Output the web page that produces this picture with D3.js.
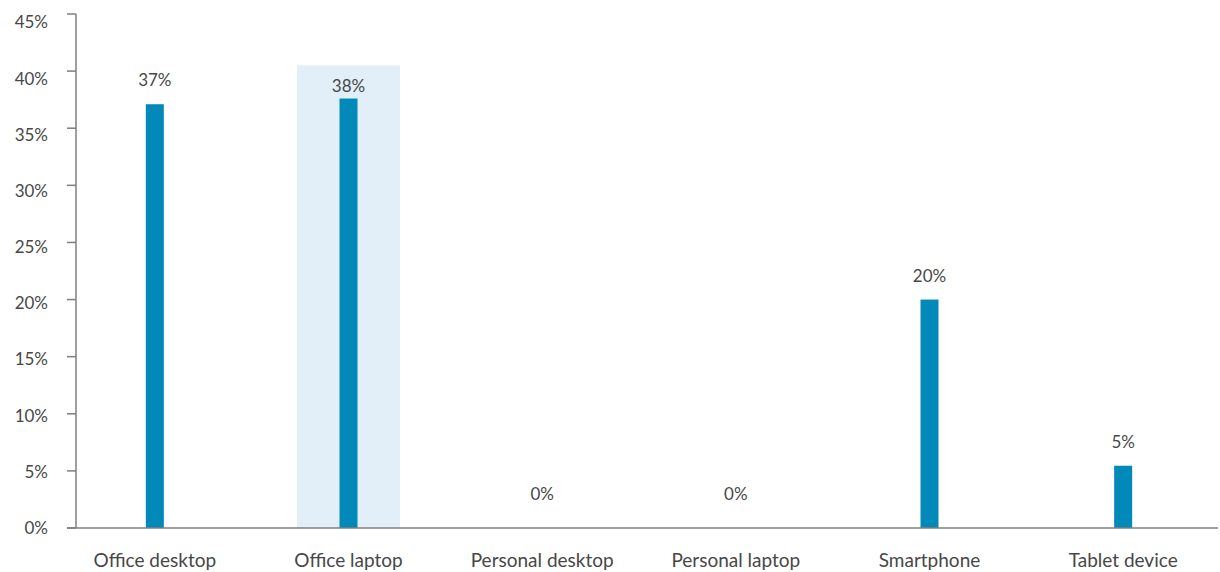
<!DOCTYPE html>
<html>
<head>
<meta charset="utf-8">
<script src="https://cdn.jsdelivr.net/npm/d3@7"></script>
<style>
  html, body { margin: 0; padding: 0; background: #fff; }
  svg text { font-family: Lato, "Open Sans", sans-serif; fill: #474747; }
</style>
</head>
<body>
<svg id="chart" width="1220" height="572"></svg>
<script>
// Device used to access work systems (share of respondents, %)
const categories = ["Office desktop", "Office laptop", "Personal desktop", "Personal laptop", "Smartphone", "Tablet device"];
const shares = [37.1, 37.6, 0, 0, 20.0, 5.45];
const highlighted = ["Office laptop"];
const highlightTop = 40.5;
const yTicks = [0, 5, 10, 15, 20, 25, 30, 35, 40, 45];

const svg = d3.select("#chart");
const axisColor = "#7f7f7f";
const barColor = "#0089b9";

const x = d3.scaleBand().domain(categories).range([58, 1220]);
const y = d3.scaleLinear().domain([0, 45]).range([528, 14]);
// tick labels sit on a slightly compressed column next to the ticks
const yLabel = d3.scaleLinear().domain([0, 45]).range([528, 22.5]);

const barW = 18;
const hlW = 103;
const center = c => x(c) + x.bandwidth() / 2;

// highlight band behind the emphasised category
svg.append("g").selectAll("rect")
  .data(highlighted)
  .join("rect")
  .attr("x", d => center(d) - hlW / 2)
  .attr("width", hlW)
  .attr("y", y(highlightTop))
  .attr("height", y(0) - y(highlightTop))
  .attr("fill", "#e2eff8");

// bars
const data = categories.map((c, i) => ({ c, v: shares[i] }));

svg.append("g").selectAll("rect")
  .data(data.filter(d => d.v > 0))
  .join("rect")
  .attr("x", d => center(d.c) - barW / 2)
  .attr("width", barW)
  .attr("y", d => y(d.v))
  .attr("height", d => y(0) - y(d.v))
  .attr("fill", barColor);

// value labels
const labelGap = { "Office laptop": 7 };
svg.append("g").selectAll("text")
  .data(data)
  .join("text")
  .attr("x", d => center(d.c))
  .attr("y", d => y(d.v) - (d.v === 0 ? 28 : (labelGap[d.c] ?? 18)))
  .attr("text-anchor", "middle")
  .attr("font-size", 17)
  .text(d => d3.format(".0f")(d.v) + "%");

// y axis
const yAxis = svg.append("g");
yAxis.append("line")
  .attr("x1", 76).attr("x2", 76)
  .attr("y1", y(45)).attr("y2", y(0))
  .attr("stroke", axisColor).attr("stroke-width", 1.5);
yAxis.selectAll("line.tick")
  .data(yTicks)
  .join("line")
  .attr("class", "tick")
  .attr("x1", 67).attr("x2", 76)
  .attr("y1", d => y(d)).attr("y2", d => y(d))
  .attr("stroke", axisColor).attr("stroke-width", 1.5);
yAxis.selectAll("text")
  .data(yTicks)
  .join("text")
  .attr("x", 48)
  .attr("y", d => yLabel(d))
  .attr("dy", "0.35em")
  .attr("text-anchor", "end")
  .attr("font-size", 17)
  .text(d => d + "%");

// x axis
const xAxis = svg.append("g");
xAxis.append("line")
  .attr("x1", 67).attr("x2", 1218)
  .attr("y1", y(0)).attr("y2", y(0))
  .attr("stroke", axisColor).attr("stroke-width", 1.5);
xAxis.selectAll("text")
  .data(categories)
  .join("text")
  .attr("x", d => center(d))
  .attr("y", 567)
  .attr("text-anchor", "middle")
  .attr("font-size", 19)
  .text(d => d);
</script>
</body>
</html>
